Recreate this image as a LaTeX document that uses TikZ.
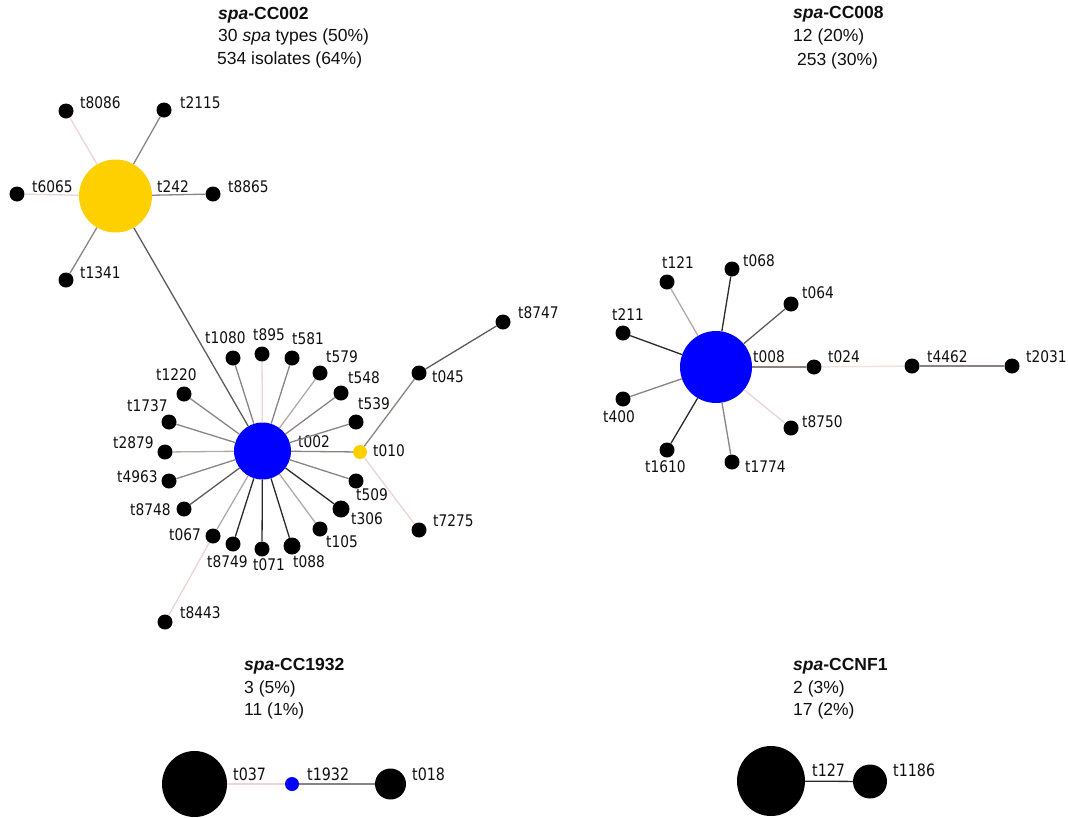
\documentclass[tikz,border=0pt]{standalone}
\usepackage{fontspec}
\usetikzlibrary{shapes.geometric}
\setmainfont{Liberation Sans}
\newfontfamily\labfont[FakeStretch=0.86]{DejaVu Sans}
\newfontfamily\labfontb[FakeStretch=0.84]{DejaVu Sans}
\definecolor{ep}{RGB}{235,212,212}
\definecolor{eg1}{RGB}{178,168,168}
\definecolor{eg2}{RGB}{140,130,130}
\definecolor{eg3}{RGB}{95,90,90}
\definecolor{eg4}{RGB}{45,40,40}
\definecolor{ylw}{RGB}{255,208,0}
\definecolor{blu}{RGB}{0,0,255}
\definecolor{txt}{RGB}{15,15,15}
\tikzset{
  sn/.style={circle,fill=black,inner sep=0pt,minimum size=15pt},
  bn/.style={circle,fill=black,inner sep=0pt,minimum size=17pt},
  lab/.style={anchor=west,inner sep=0pt,text height=0.73em,text depth=0pt,font=\labfont\fontsize{16}{19}\selectfont,text=txt},
  labb/.style={anchor=west,inner sep=0pt,text height=0.73em,text depth=0pt,font=\labfontb\fontsize{17}{20}\selectfont,text=txt},
  head/.style={anchor=west,inner sep=0pt,text height=0.72em,text depth=0pt,font=\fontsize{17.5}{21}\selectfont,text=txt},
  ed/.style={line width=1.3pt},
}
\begin{document}
\begin{tikzpicture}[x=1pt,y=-1pt]
\useasboundingbox (0,0) rectangle (1068,817);
% ---------- headings ----------
\node[head] (h1a) at (218,16) {\textbf{\textit{spa}-CC002}};
\node[head] (h1b) at (218,38) {30 \textit{spa} types (50\%)};
\node[head] (h1c) at (217,61) {534 isolates (64\%)};
\node[head] (h2a) at (793,15) {\textbf{\textit{spa}-CC008}};
\node[head] (h2b) at (793,38) {12 (20\%)};
\node[head] (h2c) at (797,62) {253 (30\%)};
\node[head] (h3a) at (244,667) {\textbf{\textit{spa}-CC1932}};
\node[head] (h3b) at (244,690) {3 (5\%)};
\node[head] (h3c) at (244,712) {11 (1\%)};
\node[head] (h4a) at (793,667) {\textbf{\textit{spa}-CCNF1}};
\node[head] (h4b) at (793,690) {2 (3\%)};
\node[head] (h4c) at (793,712) {17 (2\%)};
% ---------- CC002 nodes ----------
\node[circle,fill=ylw,inner sep=0pt,minimum size=73pt] (t242) at (115.5,196) {};
\node[sn] (t8086) at (66,111) {};
\node[sn] (t2115) at (164,110) {};
\node[sn] (t6065) at (17,194) {};
\node[sn] (t8865) at (213,194) {};
\node[sn] (t1341) at (66,280) {};
\node[circle,fill=blu,inner sep=0pt,minimum size=57pt] (t002) at (262.5,451) {};
\node[circle,fill=ylw,inner sep=0pt,minimum size=14pt] (t010) at (360,452) {};
\node[sn] (t045) at (419,373) {};
\node[sn] (t8747) at (503,322) {};
\node[sn] (t7275) at (419,530) {};
\node[sn] (t1080) at (233,358) {};
\node[sn] (t895) at (262,354) {};
\node[sn] (t581) at (292,358) {};
\node[sn] (t579) at (320,373) {};
\node[sn] (t548) at (341,393) {};
\node[sn] (t539) at (356,422) {};
\node[sn] (t1220) at (184,394) {};
\node[sn] (t1737) at (169,422) {};
\node[sn] (t2879) at (165,452) {};
\node[sn] (t4963) at (169,481) {};
\node[sn] (t8748) at (184,509) {};
\node[sn] (t067) at (213,536) {};
\node[sn] (t8749) at (233,544) {};
\node[sn] (t071) at (262,549) {};
\node[bn] (t088) at (292,546) {};
\node[sn] (t105) at (320,529) {};
\node[bn] (t306) at (341,509) {};
\node[sn] (t509) at (356,481) {};
\node[sn] (t8443) at (165,622) {};
% labels CC002
\node[lab] (l242) at (157,189) {t242};
\node[lab] (l8086) at (80,105) {t8086};
\node[lab] (l2115) at (180,105) {t2115};
\node[lab] (l6065) at (32,189) {t6065};
\node[lab] (l8865) at (228,189) {t8865};
\node[lab] (l1341) at (80,275) {t1341};
\node[lab] (l002) at (298,444) {t002};
\node[lab] (l010) at (373,453) {t010};
\node[lab] (l045) at (432,379) {t045};
\node[lab] (l8747) at (518,315) {t8747};
\node[lab] (l7275) at (433,523) {t7275};
\node[lab] (l1080) at (205,340) {t1080};
\node[lab] (l895) at (253,337) {t895};
\node[lab] (l581) at (292,341) {t581};
\node[lab] (l579) at (326,359) {t579};
\node[lab] (l548) at (348,380) {t548};
\node[lab] (l539) at (358,406) {t539};
\node[lab] (l1220) at (156,377) {t1220};
\node[lab] (l1737) at (127,408) {t1737};
\node[lab] (l2879) at (113,445) {t2879};
\node[lab] (l4963) at (117,479) {t4963};
\node[lab] (l8748) at (130,512) {t8748};
\node[lab] (l067) at (169,537) {t067};
\node[lab] (l8749) at (207,564) {t8749};
\node[lab] (l071) at (253,567) {t071};
\node[lab] (l088) at (293,564) {t088};
\node[lab] (l105) at (326,544) {t105};
\node[lab] (l306) at (351,521) {t306};
\node[lab] (l509) at (356,497) {t509};
\node[lab] (l8443) at (180,615) {t8443};
% edges CC002
\draw[ed,ep] (t242) -- (t8086);
\draw[ed,eg2] (t242) -- (t2115);
\draw[ed,ep] (t242) -- (t6065);
\draw[ed,eg2] (t242) -- (t8865);
\draw[ed,eg2] (t242) -- (t1341);
\draw[ed,eg3] (t242) -- (t002);
\draw[ed,eg2] (t002) -- (t1080);
\draw[ed,ep] (t002) -- (t895);
\draw[ed,eg2] (t002) -- (t581);
\draw[ed,eg1] (t002) -- (t579);
\draw[ed,eg2] (t002) -- (t548);
\draw[ed,eg2] (t002) -- (t539);
\draw[ed,eg2] (t002) -- (t010);
\draw[ed,eg2] (t002) -- (t509);
\draw[ed,eg4] (t002) -- (t306);
\draw[ed,eg1] (t002) -- (t105);
\draw[ed,eg4] (t002) -- (t088);
\draw[ed,eg4] (t002) -- (t071);
\draw[ed,eg4] (t002) -- (t8749);
\draw[ed,eg1] (t002) -- (t067);
\draw[ed,eg3] (t002) -- (t8748);
\draw[ed,eg2] (t002) -- (t4963);
\draw[ed,eg1] (t002) -- (t2879);
\draw[ed,eg2] (t002) -- (t1737);
\draw[ed,eg2] (t002) -- (t1220);
\draw[ed,ep] (t067) -- (t8443);
\draw[ed,eg2] (t010) -- (t045);
\draw[ed,eg3] (t045) -- (t8747);
\draw[ed,ep] (t010) -- (t7275);
% ---------- CC008 ----------
\node[circle,fill=blu,inner sep=0pt,minimum size=72pt] (t008) at (716,367) {};
\node[sn] (t024) at (814,367) {};
\node[sn] (t4462) at (912,366) {};
\node[sn] (t2031) at (1012,366) {};
\node[sn] (t121) at (667,282) {};
\node[sn] (t068) at (732,269) {};
\node[sn] (t064) at (791,304) {};
\node[sn] (t211) at (623,333) {};
\node[sn] (t400) at (623,399) {};
\node[sn] (t1610) at (667,450) {};
\node[sn] (t1774) at (732,462) {};
\node[sn] (t8750) at (791,428) {};
\node[lab] (l008) at (753,359) {t008};
\node[lab] (l024) at (828,359) {t024};
\node[lab] (l4462) at (927,359) {t4462};
\node[lab] (l2031) at (1026,359) {t2031};
\node[lab] (l121) at (662,265) {t121};
\node[lab] (l068) at (743,263) {t068};
\node[lab] (l064) at (802,295) {t064};
\node[lab] (l211) at (612,317) {t211};
\node[lab] (l400) at (603,419) {t400};
\node[lab] (l1610) at (645,469) {t1610};
\node[lab] (l1774) at (745,469) {t1774};
\node[lab] (l8750) at (802,424) {t8750};
\draw[ed,eg1] (t008) -- (t121);
\draw[ed,eg4] (t008) -- (t068);
\draw[ed,eg3] (t008) -- (t064);
\draw[ed,eg4] (t008) -- (t211);
\draw[ed,eg2] (t008) -- (t400);
\draw[ed,eg4] (t008) -- (t1610);
\draw[ed,eg2] (t008) -- (t1774);
\draw[ed,ep] (t008) -- (t8750);
\draw[ed,eg2] (t008) -- (t024);
\draw[ed,ep!70] (t024) -- (t4462);
\draw[ed,eg2] (t4462) -- (t2031);
% ---------- CC1932 ----------
\node[ellipse,fill=black,inner sep=0pt,minimum width=65pt,minimum height=66pt] (t037) at (194.5,784) {};
\node[circle,fill=blu,inner sep=0pt,minimum size=14pt] (t1932) at (292,784) {};
\node[circle,fill=black,inner sep=0pt,minimum size=31pt] (t018) at (390.5,784) {};
\node[labb] (l037) at (233,777) {t037};
\node[labb] (l1932) at (307,777) {t1932};
\node[labb] (l018) at (412,777) {t018};
\draw[ed,ep] (t037) -- (t1932);
\draw[ed,eg2] (t1932) -- (t018);
% ---------- CCNF1 ----------
\node[ellipse,fill=black,inner sep=0pt,minimum width=68pt,minimum height=70pt] (t127) at (771,781) {};
\node[ellipse,fill=black,inner sep=0pt,minimum width=34pt,minimum height=34pt] (t1186) at (870,781.5) {};
\node[labb] (l127) at (812,773) {t127};
\node[labb] (l1186) at (893,773) {t1186};
\draw[ed,eg4] (t127) -- (t1186);
\end{tikzpicture}
\end{document}
